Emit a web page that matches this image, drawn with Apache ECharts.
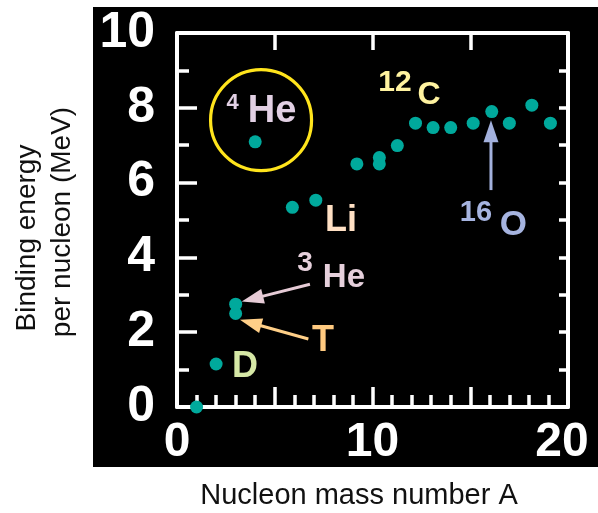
<!DOCTYPE html>
<html>
<head>
<meta charset="utf-8">
<script src="https://cdn.jsdelivr.net/npm/echarts@6/dist/echarts.min.js"></script>
<style>
html,body{margin:0;padding:0;background:#fff;}
#wrap{position:relative;width:598px;height:513px;}
#panel{position:absolute;left:93px;top:7px;width:505px;height:460px;background:#000;}
#chart{position:absolute;left:0;top:0;width:598px;height:513px;}
</style>
</head>
<body>
<div id="wrap"><div id="panel"></div><div id="chart"></div></div>
<script>
// ---- data ----
const massNumbers     = [1, 2, 3, 3, 4, 5.9, 7.1, 9.2, 10.35, 10.35, 11.27, 12.2, 13.1, 14, 15.15, 16.1, 17, 18.15, 19.1];
const bindingEnergies = [0, 1.15, 2.5, 2.75, 7.09, 5.34, 5.53, 6.5, 6.67, 6.5, 6.99, 7.59, 7.47, 7.47, 7.59, 7.9, 7.59, 8.07, 7.59];
const xTickLabels = [0, 10, 20];
const yTickLabels = [0, 2, 4, 6, 8, 10];
const xTitle = 'Nucleon mass number A';
const yTitleLines = ['Binding energy', 'per nucleon (MeV)'];

// annotation texts (anchors in data units)
const noteTexts = ['4', 'He', '12', 'C', '16', 'O', 'Li', '3', 'He', 'T', 'D'];
const noteX     = [2.84, 4.86, 11.15, 12.89, 15.29, 17.21, 8.39, 6.55, 8.54, 7.47, 3.48];
const noteY     = [8.14, 7.90, 8.66, 8.34, 5.20, 4.87, 4.96, 3.85, 3.46, 1.75, 1.08];
// arrows: tail x, tail y, tip x, tip y (data units)
const arrowTailX = [16.06, 6.80, 6.72];
const arrowTailY = [5.80, 3.28, 1.82];
const arrowTipX  = [16.06, 3.31, 3.22];
const arrowTipY  = [7.67, 2.82, 2.33];
// circle around 4He (data units)
const circleCenter = [4.30, 7.67];

// ---- styles ----
const FONT = "'Liberation Sans', Arial, sans-serif";
const noteSizes  = [22, 38, 30, 32, 29, 35, 36, 28, 33, 36, 36];
const noteColors = ['#E2D0E4', '#E2D0E4', '#FFF3A0', '#FFF3A0', '#A6B4E0', '#A6B4E0',
                    '#FFE0C4', '#E6D0DC', '#E6D0DC', '#FFCA80', '#D6E8A6'];
const arrowColors = ['#A3B1DD', '#E6CBD6', '#FFCF88'];
const LINE = '#ffffff';

const chart = echarts.init(document.getElementById('chart'));

const pointData = massNumbers.map((a, i) => [a, bindingEnergies[i]]);
const noteData = noteTexts.map((t, i) => [noteX[i], noteY[i], i]);
const arrowData = arrowTailX.map((x, i) => [x, arrowTailY[i], arrowTipX[i], arrowTipY[i], i]);

const option = {
  backgroundColor: 'transparent',
  animation: false,
  grid: {left: 177, right: 30, top: 33, bottom: 106},
  graphic: [
    {type: 'text', silent: true, x: 359, y: 496,
      style: {text: xTitle, font: '29px ' + FONT, fill: '#111', align: 'center', verticalAlign: 'middle'}},
    {type: 'text', silent: true, x: 27, y: 238, rotation: Math.PI / 2,
      style: {text: yTitleLines[0], font: '28px ' + FONT, fill: '#111', align: 'center', verticalAlign: 'middle'}},
    {type: 'text', silent: true, x: 62, y: 222, rotation: Math.PI / 2,
      style: {text: yTitleLines[1], font: '28px ' + FONT, fill: '#111', align: 'center', verticalAlign: 'middle'}}
  ],
  xAxis: [
    {type: 'value', min: 0, max: 20, interval: 5, position: 'bottom',
      axisLine: {show: true, onZero: false, lineStyle: {color: LINE, width: 4}},
      axisTick: {show: true, inside: true, length: 20, lineStyle: {color: LINE, width: 3.5}},
      minorTick: {show: true, splitNumber: 5, length: 12, lineStyle: {color: LINE, width: 3.5}},
      splitLine: {show: false},
      axisLabel: {
        show: true, margin: 12, color: '#ffffff', fontSize: 48, fontWeight: 'bold', fontFamily: FONT,
        formatter: v => xTickLabels.indexOf(v) >= 0 ? (v === 20 ? '{r|' + v + '}' : String(v)) : '',
        rich: {r: {color: '#ffffff', fontSize: 48, fontWeight: 'bold', fontFamily: FONT, padding: [0, 12, 0, 0]}}
      }},
    {type: 'value', min: 0, max: 20, interval: 5, position: 'top',
      axisLine: {show: true, onZero: false, lineStyle: {color: LINE, width: 4}},
      axisTick: {show: true, inside: true, length: 17, lineStyle: {color: LINE, width: 3.5}},
      axisLabel: {show: false}, splitLine: {show: false}}
  ],
  yAxis: [
    {type: 'value', min: 0, max: 10, interval: 2, position: 'left',
      axisLine: {show: true, onZero: false, lineStyle: {color: LINE, width: 4}},
      axisTick: {show: true, inside: true, length: 20, lineStyle: {color: LINE, width: 3.5}},
      minorTick: {show: true, splitNumber: 2, length: 12, lineStyle: {color: LINE, width: 3.5}},
      splitLine: {show: false},
      axisLabel: {
        show: true, margin: 22, color: '#ffffff', fontSize: 50, fontWeight: 'bold', fontFamily: FONT,
        formatter: v => yTickLabels.indexOf(v) >= 0 ? String(v) : ''
      }},
    {type: 'value', min: 0, max: 10, interval: 1, position: 'right',
      axisLine: {show: true, onZero: false, lineStyle: {color: LINE, width: 4}},
      axisTick: {show: true, inside: true, length: 9, lineStyle: {color: LINE, width: 3.5}},
      axisLabel: {show: false}, splitLine: {show: false}}
  ],
  series: [
    {type: 'scatter', name: 'nuclei', data: pointData, symbol: 'circle', symbolSize: 13,
      itemStyle: {color: '#00A99C', opacity: 1}, z: 5, silent: true},
    {type: 'scatter', name: 'ring', data: [circleCenter], symbol: 'circle', symbolSize: 101,
      itemStyle: {color: 'rgba(0,0,0,0)', borderColor: '#FFE41C', borderWidth: 3.2, opacity: 1}, z: 4, silent: true},
    {type: 'custom', name: 'arrows', silent: true, z: 4, data: arrowData,
      renderItem: function (params, api) {
        const p1 = api.coord([api.value(0), api.value(1)]);
        const p2 = api.coord([api.value(2), api.value(3)]);
        const idx = api.value(4);
        const dx = p2[0] - p1[0], dy = p2[1] - p1[1];
        const len = Math.sqrt(dx * dx + dy * dy);
        const ux = dx / len, uy = dy / len;
        const headLen = 22, headHalf = 7.5;
        const bx = p2[0] - ux * headLen, by = p2[1] - uy * headLen;
        const col = arrowColors[idx];
        return {type: 'group', children: [
          {type: 'line', shape: {x1: p1[0], y1: p1[1], x2: bx + ux * 2, y2: by + uy * 2}, style: {stroke: col, lineWidth: 3}},
          {type: 'polygon', shape: {points: [[p2[0], p2[1]],
            [bx - uy * headHalf, by + ux * headHalf], [bx + uy * headHalf, by - ux * headHalf]]}, style: {fill: col}}
        ]};
      }},
    {type: 'custom', name: 'notes', silent: true, z: 6, data: noteData,
      renderItem: function (params, api) {
        const p = api.coord([api.value(0), api.value(1)]);
        const i = api.value(2);
        return {type: 'text', x: p[0], y: p[1], style: {
          text: noteTexts[i], fill: noteColors[i], font: 'bold ' + noteSizes[i] + 'px ' + FONT,
          align: 'center', verticalAlign: 'middle'}};
      }}
  ]
};
chart.setOption(option);
</script>
</body>
</html>
